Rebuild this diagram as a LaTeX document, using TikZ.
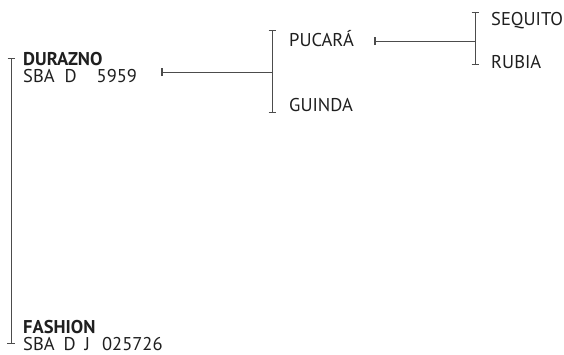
\documentclass[tikz,border=0pt]{standalone}
\usepackage{fontspec}
\setmainfont{PT Sans}
\begin{document}
\begin{tikzpicture}[x=1pt,y=-1pt,
  lbl/.style={anchor=base west,inner sep=0pt,text=black!88,font=\fontsize{18.5}{21}\selectfont},
  nm/.style={lbl,font=\fontsize{18.5}{21}\selectfont\bfseries},
  ln/.style={draw=black!70,line width=1pt},
  tk/.style={draw=black!70,line width=1.3pt}]
\useasboundingbox (0,0) rectangle (564,354);
% left bracket
\coordinate (L1) at (11,58);
\coordinate (L2) at (11,343);
\draw[ln] (L1) -- (L2);
\draw[ln] ([xshift=-3.5]L1) -- ([xshift=3.5]L1);
\draw[ln] ([xshift=-4]L2) -- ([xshift=3.5]L2);
\node[nm] (dur) at (23,65) {DURAZNO};
\node[lbl] (durid) at (23,82) {SBA\hspace{10pt}D\hspace{20pt}5959};
\node[nm] (fas) at (23,333) {FASHION};
\node[lbl] (fasid) at (23,350) {SBA\hspace{9pt}D\hspace{9pt}J\hspace{12pt}025726};
% line to middle bracket
\coordinate (a1) at (162,72);
\coordinate (a2) at (272,72);
\draw[ln] (a1) -- (a2);
\draw[tk] ([yshift=-4]a1) -- ([yshift=4]a1);
% middle bracket
\coordinate (M1) at (272,30);
\coordinate (M2) at (272,112);
\draw[ln] (M1) -- (M2);
\draw[ln] ([xshift=-3.5]M1) -- ([xshift=3.5]M1);
\draw[ln] ([xshift=-3.5]M2) -- ([xshift=3.5]M2);
\node[lbl] (puc) at (289,46) {PUCARÁ};
\node[lbl] (gui) at (289,111) {GUINDA};
% line to right bracket
\coordinate (b1) at (375,41);
\coordinate (b2) at (475,41);
\draw[ln] (b1) -- (b2);
\draw[tk] ([yshift=-4]b1) -- ([yshift=4]b1);
% right bracket
\coordinate (R1) at (475,12);
\coordinate (R2) at (475,64);
\draw[ln] (R1) -- (R2);
\draw[ln] ([xshift=-3.5]R1) -- ([xshift=3.5]R1);
\draw[ln] ([xshift=-3.5]R2) -- ([xshift=3.5]R2);
\node[lbl] (seq) at (491,25) {SEQUITO};
\node[lbl] (rub) at (491,68) {RUBIA};
\end{tikzpicture}
\end{document}
